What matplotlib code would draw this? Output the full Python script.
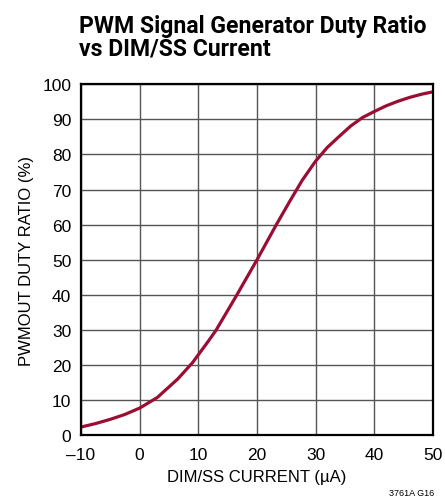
import matplotlib.pyplot as plt

plt.rcParams['font.family'] = ['Liberation Sans Narrow', 'Liberation Sans', 'DejaVu Sans']

# Duty ratio
current = [-10, -7.5, -5, -2.5, 0, 3, 6.5, 9, 11.6, 13, 16.5, 20, 23.3,
           25.5, 27.7, 30, 32, 34.2, 36, 38, 40, 42, 44, 46, 48, 50]
duty = [2.4, 3.4, 4.6, 6.0, 7.8, 10.8, 16.1, 20.7, 26.6, 29.9, 39.8, 50, 60,
        66.4, 72.6, 78.1, 82.0, 85.4, 88.1, 90.5, 92.2, 93.8, 95.1, 96.2, 97.1, 97.8]

xticks = [-10, 0, 10, 20, 30, 40, 50]
xticklabels = ['\u201310', '0', '10', '20', '30', '40', '50']
yticks = list(range(0, 101, 10))

fig = plt.figure(figsize=(4.45, 5.02), dpi=100)
ax = fig.add_axes([0.182, 0.1305, 0.791, 0.700])

ax.plot(current, duty, color='#9a0e34', linewidth=2.3,
        solid_joinstyle='round', solid_capstyle='butt')

ax.set_xlim(-10, 50)
ax.set_ylim(0, 100)
ax.set_xticks(xticks)
ax.set_xticklabels(xticklabels)
ax.set_yticks(yticks)
ax.tick_params(length=0, labelsize=12.5)
ax.tick_params(axis='x', pad=8)
ax.tick_params(axis='y', pad=7)
ax.grid(color='#555555', linewidth=1.0)
for s in ax.spines.values():
    s.set_linewidth(1.6)
    s.set_color('black')

ax.set_xlabel('DIM/SS CURRENT (\u00b5A)', fontsize=12, labelpad=5)
ax.set_ylabel('PWMOUT DUTY RATIO (%)', fontsize=12, labelpad=6)

fig.text(0.178, 0.879, 'PWM Signal Generator Duty Ratio\nvs DIM/SS Current',
         fontsize=16.6, fontweight='bold', ha='left', va='bottom',
         linespacing=1.0, family=['Roboto', 'DejaVu Sans'])
fig.text(0.975, 0.008, '3761A G16', fontsize=6.5, ha='right', va='bottom')

fig.savefig('out.png', dpi=100)
